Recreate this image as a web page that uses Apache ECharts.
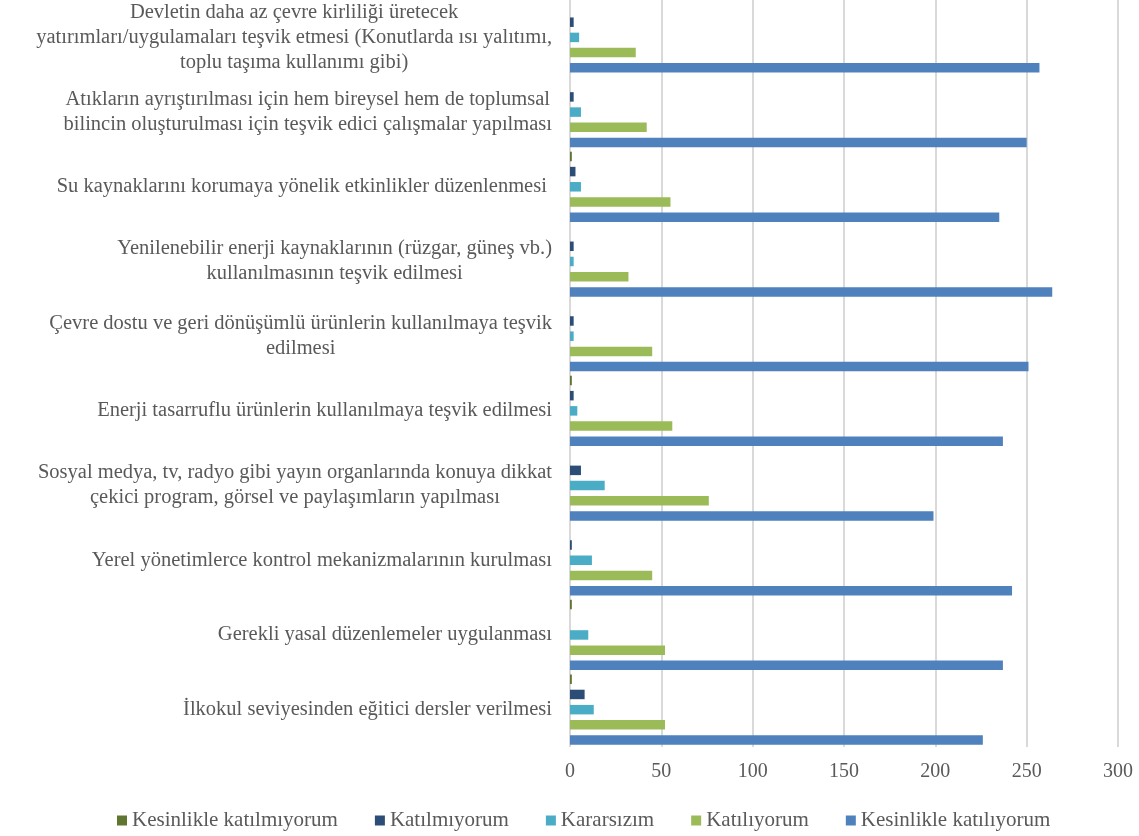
<!DOCTYPE html>
<html><head><meta charset="utf-8">
<script src="https://cdn.jsdelivr.net/npm/echarts@6/dist/echarts.min.js"></script>
<style>html,body{margin:0;padding:0;background:#fff}#c{width:1139px;height:836px}</style>
</head><body><div id="c"></div>
<script>
const categories = [
  "Devletin daha az çevre kirliliği üretecek\nyatırımları/uygulamaları teşvik etmesi (Konutlarda ısı yalıtımı,\ntoplu taşıma kullanımı gibi)",
  "Atıkların ayrıştırılması için hem bireysel hem de toplumsal\nbilincin oluşturulması için teşvik edici çalışmalar yapılması",
  "Su kaynaklarını korumaya yönelik etkinlikler düzenlenmesi ",
  "Yenilenebilir enerji kaynaklarının (rüzgar, güneş vb.)\nkullanılmasının teşvik edilmesi",
  "Çevre dostu ve geri dönüşümlü ürünlerin kullanılmaya teşvik\nedilmesi",
  "Enerji tasarruflu ürünlerin kullanılmaya teşvik edilmesi",
  "Sosyal medya, tv, radyo gibi yayın organlarında konuya dikkat\nçekici program, görsel ve paylaşımların yapılması",
  "Yerel yönetimlerce kontrol mekanizmalarının kurulması",
  "Gerekli yasal düzenlemeler uygulanması",
  "İlkokul seviyesinden eğitici dersler verilmesi"
];
const seriesNames = ["Kesinlikle katılmıyorum","Katılmıyorum","Kararsızım","Katılıyorum","Kesinlikle katılıyorum"];
const kesinlikleKatilmiyorum = [0, 0, 1, 0, 0, 1, 0, 0, 1, 1];
const katilmiyorum           = [2, 2, 3, 2, 2, 2, 6, 1, 0, 8];
const kararsizim             = [5, 6, 6, 2, 2, 4, 19, 12, 10, 13];
const katiliyorum            = [36, 42, 55, 32, 45, 56, 76, 45, 52, 52];
const kesinlikleKatiliyorum  = [257, 250, 235, 264, 251, 237, 199, 242, 237, 226];
const xTicks = {min: 0, max: 300, interval: 50};

const colors = ["#5F7530","#2C4D75","#4BACC6","#9BBB59","#4F81BD"];
const dataSets = [kesinlikleKatilmiyorum, katilmiyorum, kararsizim, katiliyorum, kesinlikleKatiliyorum];
const font = "'Liberation Serif', 'Times New Roman', serif";
const textColor = '#595959';

const chart = echarts.init(document.getElementById('c'));
chart.setOption({
  animation: false,
  textStyle: {fontFamily: font},
  color: colors,
  legend: {
    bottom: 0, left: 112, itemWidth: 10, itemHeight: 10, itemGap: 37,
    icon: 'rect',
    textStyle: {fontFamily: font, fontSize: 21, color: textColor},
    data: seriesNames
  },
  grid: {left: 570, right: 21, top: -2, bottom: 89, containLabel: false},
  xAxis: {
    type: 'value', min: xTicks.min, max: xTicks.max, interval: xTicks.interval,
    axisLine: {show: false}, axisTick: {show: false},
    axisLabel: {fontFamily: font, fontSize: 20, color: textColor, margin: 15},
    splitLine: {lineStyle: {color: '#D9D9D9', width: 2}}
  },
  yAxis: {
    type: 'category', inverse: true, data: categories,
    axisLine: {show: false}, axisTick: {show: false},
    axisLabel: {
      margin: 18, fontFamily: font, fontSize: 20.5, color: textColor, lineHeight: 25,
      formatter: function (v) { return v.split('\n').map(function (l) { return '{c|' + l + '}'; }).join('\n'); },
      rich: {c: {align: 'center', fontFamily: font, fontSize: 20.5, color: textColor, lineHeight: 25}}
    }
  },
  series: seriesNames.map(function (n, i) {
    return {
      name: n, type: 'bar', data: dataSets[i], barWidth: 9.5, barGap: '60%',
      itemStyle: {color: colors[i]}
    };
  })
});
</script></body></html>
